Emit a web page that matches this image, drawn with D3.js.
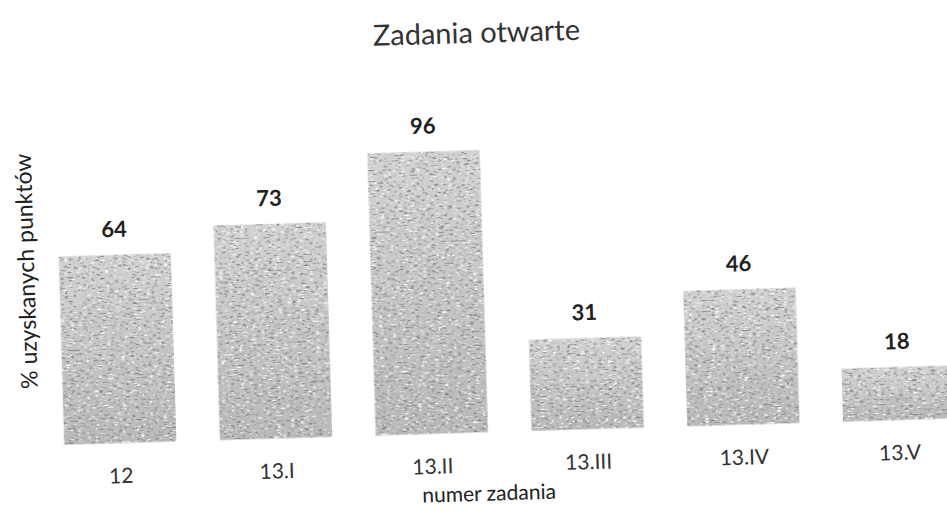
<!DOCTYPE html>
<html>
<head>
<meta charset="utf-8">
<script src="https://cdnjs.cloudflare.com/ajax/libs/d3/7.8.5/d3.min.js"></script>
<style>
  body { margin: 0; background: #fff; }
  text { font-family: Lato, "Open Sans", sans-serif; fill: #222; }
</style>
</head>
<body>
<div id="chart"></div>
<script>
var categories = ["12", "13.I", "13.II", "13.III", "13.IV", "13.V"]
var values = [64, 73, 96, 31, 46, 18]
var title = "Zadania otwarte"
var x_label = "numer zadania"
var y_label = "% uzyskanych punktów"

var width = 947,
    height = 511

var svg = d3.select("#chart")
  .append("svg")
  .attr("width", width)
  .attr("height", height)

var defs = svg.append("defs")

// scanned look: light gray with dark and white specks
var grad = defs.append("linearGradient")
  .attr("id", "barGrad")
  .attr("x1", 0).attr("y1", 0).attr("x2", 0).attr("y2", 1)
grad.append("stop").attr("offset", "0%").attr("stop-color", "#d2d2d2")
grad.append("stop").attr("offset", "100%").attr("stop-color", "#b9b9b9")

var grain = defs.append("filter")
  .attr("id", "grain")
  .attr("x", 0).attr("y", 0).attr("width", 1).attr("height", 1)
grain.append("feTurbulence")
  .attr("type", "fractalNoise")
  .attr("baseFrequency", "0.22 0.55")
  .attr("numOctaves", 2)
  .attr("seed", 7)
  .attr("result", "noise")
grain.append("feColorMatrix")
  .attr("in", "noise")
  .attr("type", "matrix")
  .attr("values", "0 0 0 0 0.25  0 0 0 0 0.25  0 0 0 0 0.25  -7 0 0 0 3.0")
  .attr("result", "darkSpecks")
grain.append("feColorMatrix")
  .attr("in", "noise")
  .attr("type", "matrix")
  .attr("values", "0 0 0 0 1  0 0 0 0 1  0 0 0 0 1  0 6 0 0 -3.6")
  .attr("result", "lightSpecks")
grain.append("feComposite")
  .attr("in", "darkSpecks").attr("in2", "SourceGraphic")
  .attr("operator", "in").attr("result", "dark")
grain.append("feComposite")
  .attr("in", "lightSpecks").attr("in2", "SourceGraphic")
  .attr("operator", "in").attr("result", "light")
grain.append("feMerge")
  .call(function(m){
    m.append("feMergeNode").attr("in", "SourceGraphic")
    m.append("feMergeNode").attr("in", "light")
    m.append("feMergeNode").attr("in", "dark")
  })

// the scan is slightly tilted
var g = svg.append("g")
  .attr("transform", "rotate(-1.7, 473, 255)")

var x = d3.scaleBand()
  .domain(categories)
  .range([37, 972])
  .paddingInner(0.28)
  .paddingOuter(0.14)

var y = d3.scaleLinear()
  .domain([0, 100])
  .range([432.5, 138.5])

g.selectAll(".bar")
  .data(values)
  .enter()
  .append("rect")
  .attr("class", "bar")
  .attr("x", function(d, i){return x(categories[i])})
  .attr("y", function(d){return y(d)})
  .attr("width", x.bandwidth())
  .attr("height", function(d){return y(0) - y(d)})
  .attr("fill", "url(#barGrad)")
  .attr("filter", "url(#grain)")

g.selectAll(".value")
  .data(values)
  .enter()
  .append("text")
  .attr("class", "value")
  .attr("x", function(d, i){return x(categories[i]) + x.bandwidth() / 2})
  .attr("y", function(d){return y(d) - 18})
  .attr("text-anchor", "middle")
  .style("font-size", "22px")
  .style("font-weight", "bold")
  .text(function(d){return d})

var xAxis = d3.axisBottom(x).tickSize(0).tickPadding(0)

var ax = g.append("g")
  .attr("transform", "translate(0," + y(0) + ")")
  .call(xAxis)
ax.select(".domain").remove()
ax.selectAll("text")
  .attr("y", 40)
  .attr("dy", null)
  .style("font-size", "21px")
  .style("font-family", "Lato, 'Open Sans', sans-serif")
  .style("fill", "#333")

g.append("text")
  .attr("x", 483)
  .attr("y", 43)
  .attr("text-anchor", "middle")
  .style("font-size", "29px")
  .style("fill", "#333")
  .text(title)

g.append("text")
  .attr("x", 482)
  .attr("y", 501)
  .attr("text-anchor", "middle")
  .style("font-size", "21px")
  .text(x_label)

g.append("text")
  .attr("transform", "translate(34,258) rotate(-90)")
  .attr("text-anchor", "middle")
  .style("font-size", "23px")
  .text(y_label)
</script>
</body>
</html>
